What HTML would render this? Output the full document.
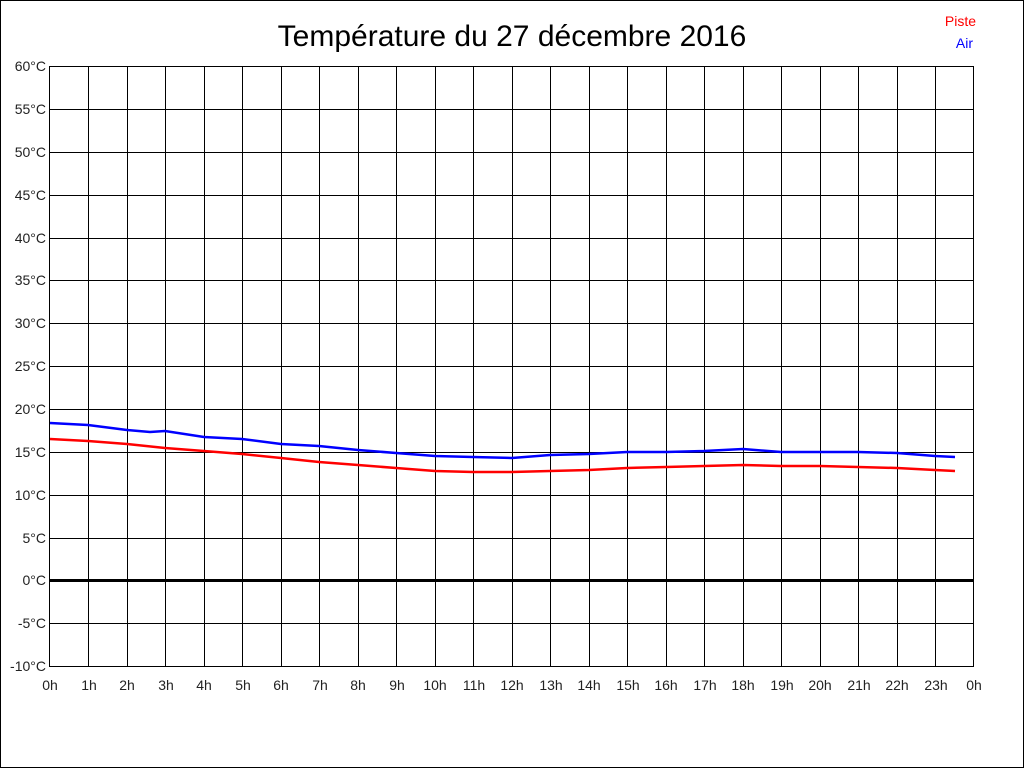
<!DOCTYPE html>
<html><head><meta charset="utf-8"><style>
html,body{margin:0;padding:0;background:#fff}
svg{display:block}
text{font-family:"Liberation Sans",Arial,sans-serif;font-size:14px;fill:#222}
</style></head><body>
<svg width="1024" height="768" xmlns="http://www.w3.org/2000/svg">
<rect x="0.5" y="0.5" width="1023" height="767" fill="#fff" stroke="#000"/>
<text x="512" y="46" text-anchor="middle" style="font-size:30px;fill:#000">Température du 27 décembre 2016</text>
<text x="976" y="26" text-anchor="end" style="fill:#f00">Piste</text>
<text x="973" y="48" text-anchor="end" style="fill:#00f">Air</text>
<g stroke="#000" stroke-width="1" shape-rendering="crispEdges">
<rect x="49.5" y="66.5" width="924" height="600" fill="none"/>
<path d="M88.5 66V666M127.5 66V666M165.5 66V666M204.5 66V666M242.5 66V666M281.5 66V666M319.5 66V666M358.5 66V666M396.5 66V666M435.5 66V666M473.5 66V666M512.5 66V666M550.5 66V666M589.5 66V666M627.5 66V666M666.5 66V666M704.5 66V666M743.5 66V666M781.5 66V666M820.5 66V666M858.5 66V666M897.5 66V666M935.5 66V666"/>
<path d="M49 109.5H974M49 152.5H974M49 195.5H974M49 238.5H974M49 280.5H974M49 323.5H974M49 366.5H974M49 409.5H974M49 452.5H974M49 495.5H974M49 538.5H974M49 623.5H974"/>
</g>
<rect x="49" y="579" width="925" height="3" fill="#000"/>
<g text-anchor="end">
<text x="46" y="71">60°C</text><text x="46" y="114">55°C</text><text x="46" y="157">50°C</text>
<text x="46" y="200">45°C</text><text x="46" y="243">40°C</text><text x="46" y="285">35°C</text>
<text x="46" y="328">30°C</text><text x="46" y="371">25°C</text><text x="46" y="414">20°C</text>
<text x="46" y="457">15°C</text><text x="46" y="500">10°C</text><text x="46" y="543">5°C</text>
<text x="46" y="585">0°C</text><text x="46" y="628">-5°C</text><text x="46" y="671">-10°C</text>
</g>
<g text-anchor="middle">
<text x="50" y="690">0h</text><text x="89" y="690">1h</text><text x="127" y="690">2h</text><text x="166" y="690">3h</text>
<text x="204" y="690">4h</text><text x="243" y="690">5h</text><text x="281" y="690">6h</text><text x="320" y="690">7h</text>
<text x="358" y="690">8h</text><text x="397" y="690">9h</text><text x="435" y="690">10h</text><text x="474" y="690">11h</text>
<text x="512" y="690">12h</text><text x="551" y="690">13h</text><text x="589" y="690">14h</text><text x="628" y="690">15h</text>
<text x="666" y="690">16h</text><text x="705" y="690">17h</text><text x="743" y="690">18h</text><text x="782" y="690">19h</text>
<text x="820" y="690">20h</text><text x="859" y="690">21h</text><text x="897" y="690">22h</text><text x="936" y="690">23h</text>
<text x="974" y="690">0h</text>
</g>
<polyline fill="none" stroke="#f00" stroke-width="2.5" points="50,439 88,441 127,444 165,448 204,451 242,454 281,458 319,462 358,465 396,468 435,471 473,472 512,472 550,471 589,470 627,468 666,467 704,466 743,465 781,466 820,466 858,467 897,468 935,470 955,471"/>
<polyline fill="none" stroke="#00f" stroke-width="2.5" points="50,423 88,425 127,430 150,432 165,431 204,437 242,439 281,444 319,446 358,450 396,453 435,456 473,457 512,458 550,455 589,454 627,452 666,452 704,451 743,449 781,452 820,452 858,452 897,453 935,456 955,457"/>
</svg>
</body></html>
